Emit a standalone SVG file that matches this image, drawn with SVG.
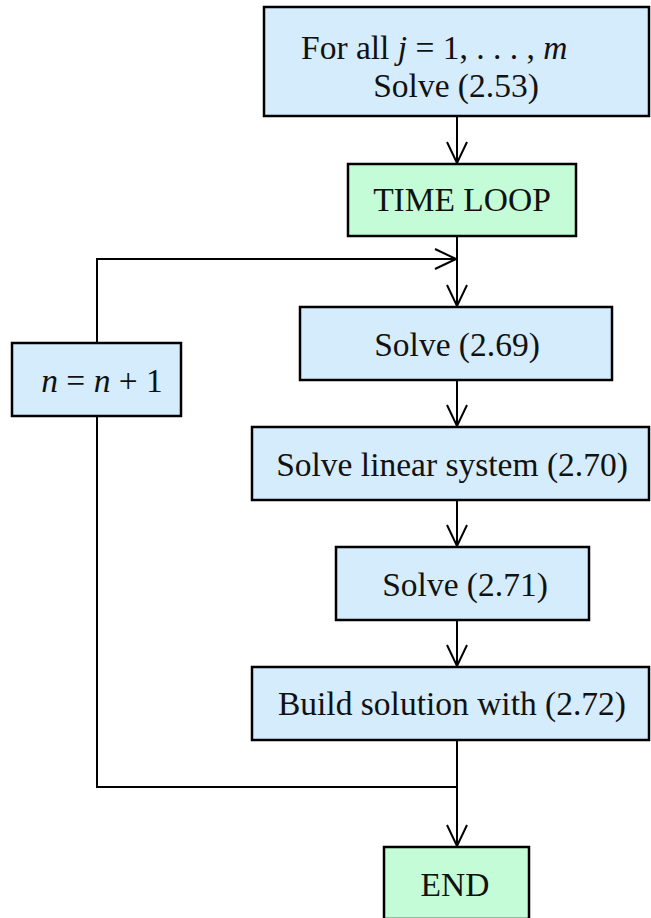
<svg xmlns="http://www.w3.org/2000/svg" width="651" height="918" viewBox="0 0 651 918">
<style>
.blue{fill:#d5ecfc;stroke:#000;stroke-width:2.5}
.green{fill:#c3fcd6;stroke:#000;stroke-width:2.5}
.t{font-family:"Liberation Serif","Times New Roman",serif;font-size:33.5px;fill:#111}
.c{text-anchor:middle}
.i{font-style:italic}
.ln{fill:none;stroke:#000;stroke-width:2}
</style>
<defs>
<marker id="arr" markerUnits="userSpaceOnUse" viewBox="-24 -12 26 24" refX="0" refY="0" markerWidth="26" markerHeight="24" orient="auto">
<path d="M-21,-10 L0,0 L-21,10" fill="none" stroke="#000" stroke-width="2"/>
</marker>
</defs>
<g id="connectors">
<path class="ln" d="M457,116 V163" marker-end="url(#arr)"/>
<path class="ln" d="M457,236 V306" marker-end="url(#arr)"/>
<path class="ln" d="M97,343 V259 H456" marker-end="url(#arr)"/>
<path class="ln" d="M457,380 V426" marker-end="url(#arr)"/>
<path class="ln" d="M457,500 V546" marker-end="url(#arr)"/>
<path class="ln" d="M457,620 V666" marker-end="url(#arr)"/>
<path class="ln" d="M457,740 V846" marker-end="url(#arr)"/>
<path class="ln" d="M97,416 V787 H457"/>
</g>
<g id="init">
<rect class="blue" x="264" y="7" width="385" height="109"/>
<text class="t" x="301" y="59">For all <tspan class="i">j</tspan> = 1, . . . , <tspan class="i">m</tspan></text>
<text class="t c" x="456" y="97">Solve (2.53)</text>
</g>
<g id="timeloop">
<rect class="green" x="348" y="164" width="228" height="72"/>
<text class="t c" x="462" y="211">TIME LOOP</text>
</g>
<g id="solve269">
<rect class="blue" x="300" y="307" width="312" height="73"/>
<text class="t c" x="457" y="356">Solve (2.69)</text>
</g>
<g id="increment">
<rect class="blue" x="12" y="343" width="169" height="73"/>
<text class="t c" x="102" y="392"><tspan class="i">n</tspan> = <tspan class="i">n</tspan> + 1</text>
</g>
<g id="linsys">
<rect class="blue" x="252" y="427" width="397" height="73"/>
<text class="t c" x="452" y="476">Solve linear system (2.70)</text>
</g>
<g id="solve271">
<rect class="blue" x="336" y="547" width="253" height="73"/>
<text class="t c" x="465" y="596">Solve (2.71)</text>
</g>
<g id="build">
<rect class="blue" x="252" y="667" width="397" height="73"/>
<text class="t c" x="452" y="715">Build solution with (2.72)</text>
</g>
<g id="end">
<rect class="green" x="384" y="847" width="145" height="72"/>
<text class="t c" x="455" y="896">END</text>
</g>
</svg>
